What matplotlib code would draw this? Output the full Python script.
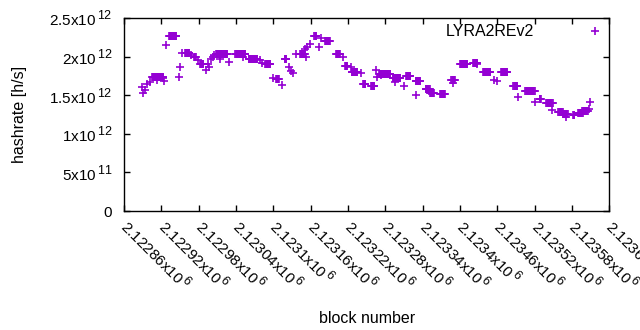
import matplotlib

matplotlib.use("Agg")
import matplotlib._mathtext as mt
import matplotlib.pyplot as plt
import numpy as np

plt.rcParams.update({"font.family": ["Liberation Sans", "DejaVu Sans"], "font.size": 11,
                     "mathtext.fontset": "custom", "mathtext.rm": "Liberation Sans"})
mt.SHRINK_FACTOR = 0.82   # gnuplot-like exponents, bigger than mathtext's default

# runs of blocks sharing the same hashrate estimate (start block, end block, value in 1e12 h/s)
run_start = [2122905, 2122932, 2122958, 2122973, 2122982, 2123008, 2123039, 2123060, 2123087,
             2123104, 2123118, 2123143, 2123166, 2123183, 2123201, 2123215, 2123226, 2123244,
             2123257, 2123270, 2123292, 2123313, 2123329, 2123345, 2123352, 2123368, 2123386,
             2123400, 2123421, 2123437, 2123466, 2123486, 2123505, 2123528, 2123539, 2123558,
             2123566, 2123582, 2123590, 2123598]
run_end = [2122923, 2122944, 2122965, 2122975, 2122987, 2123026, 2123055, 2123074, 2123095,
           2123109, 2123121, 2123150, 2123169, 2123191, 2123207, 2123219, 2123235, 2123248,
           2123262, 2123288, 2123304, 2123320, 2123336, 2123351, 2123358, 2123376, 2123392,
           2123412, 2123428, 2123449, 2123476, 2123492, 2123520, 2123530, 2123549, 2123565,
           2123573, 2123584, 2123597, 2123605]
run_val = [1.73, 2.27, 2.05, 2.00, 1.91, 2.04, 2.03, 1.97, 1.90,
           1.71, 1.97, 2.03, 2.27, 2.20, 2.03, 1.88, 1.80, 1.64,
           1.62, 1.77, 1.72, 1.75, 1.68, 1.58, 1.53, 1.52, 1.70,
           1.90, 1.92, 1.80, 1.80, 1.62, 1.55, 1.45, 1.40, 1.28,
           1.26, 1.24, 1.27, 1.30]

# isolated blocks off the runs
pt_block = [2122889, 2122891, 2122894, 2122897, 2122902, 2122913, 2122923, 2122924, 2122928,
            2122950, 2122948, 2122953, 2122968, 2122979, 2122992, 2122995, 2122997, 2123000,
            2123003, 2123005, 2123014, 2123029, 2123051, 2123079, 2123082, 2123100, 2123114,
            2123125, 2123129, 2123132, 2123137, 2123151, 2123153, 2123154, 2123158, 2123174,
            2123177, 2123212, 2123224, 2123240, 2123265, 2123267, 2123273, 2123295, 2123310,
            2123330, 2123350, 2123388, 2123428, 2123455, 2123460, 2123493, 2123520, 2123548,
            2123571, 2123596, 2123608, 2123609]
pt_val = [1.60, 1.53, 1.57, 1.65, 1.67, 1.70, 1.72, 1.68, 2.15,
          1.87, 1.74, 2.05, 2.02, 1.95, 1.83, 1.90, 1.86, 1.97,
          2.00, 2.02, 1.97, 1.93, 2.00, 1.96, 1.92, 1.72, 1.63,
          1.87, 1.82, 1.79, 2.03, 2.10, 2.00, 2.13, 2.16, 2.12,
          2.24, 2.00, 1.86, 1.79, 1.83, 1.74, 1.76, 1.67, 1.62,
          1.50, 1.55, 1.66, 1.90, 1.70, 1.68, 1.48, 1.41, 1.31,
          1.22, 1.29, 1.32, 1.41]

y_ticks = [0, 0.5e12, 1e12, 1.5e12, 2e12, 2.5e12]
y_labels = ["0", r"$\mathregular{5x10}^{\mathregular{\,11}}$", r"$\mathregular{1x10}^{\mathregular{\,12}}$",
            r"$\mathregular{1.5x10}^{\mathregular{\,12}}$", r"$\mathregular{2x10}^{\mathregular{\,12}}$",
            r"$\mathregular{2.5x10}^{\mathregular{\,12}}$"]
x_ticks = list(range(2122860, 2123641, 60))
x_labels = [r"$\mathregular{%gx10}^{\mathregular{\,6}}$" % (t / 1e6) for t in x_ticks]

blocks = np.concatenate([np.arange(s, e + 1) for s, e in zip(run_start, run_end)] + [pt_block])
rates = np.concatenate([np.full(e - s + 1, v) for s, e, v in zip(run_start, run_end, run_val)]
                       + [pt_val]) * 1e12

fig = plt.figure(figsize=(6.4, 3.3), dpi=100)
ax = fig.add_axes([0.194, 0.3606, 0.758, 0.5848])
ax.plot(blocks, rates, "+", color="#9400d3", ms=5.4, mew=1.2, label="LYRA2REv2")
ax.set_xlim(2122860, 2123640)
ax.set_ylim(0, 2.5e12)
ax.set_yticks(y_ticks, y_labels)
ax.set_xticks(x_ticks, x_labels, rotation=-45, ha="left", va="center", rotation_mode="anchor")
ax.tick_params(direction="in", length=4, width=1, top=True, right=True, pad=8.5, labelsize=11)
ax.tick_params(axis="x", pad=9)
for sp in ax.spines.values():
    sp.set_linewidth(1)
ax.set_xlabel("block number", labelpad=12, fontsize=11.5)
ax.set_ylabel("hashrate [h/s]", labelpad=16, fontsize=11.5)
ax.legend(loc="upper right", frameon=False, markerfirst=False, handletextpad=3.3,
          borderaxespad=0.0, borderpad=0.4, handlelength=1.0, fontsize=11.5)
fig.savefig("out.png", dpi=100)
